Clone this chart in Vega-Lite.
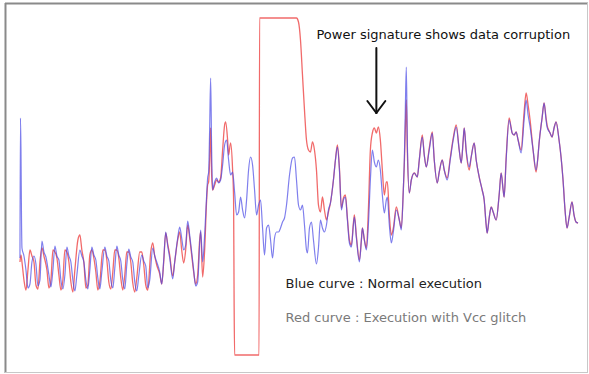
{
  "$schema": "https://vega.github.io/schema/vega-lite/v6.json",
  "width": 589,
  "height": 374,
  "autosize": {"type": "fit", "contains": "padding"},
  "padding": 0,
  "background": "white",
  "config": {"view": {"stroke": null}},
  "datasets": {
    "blue": [
      {"x":20,"y":258},{"x":20.5,"y":118},{"x":21,"y":150},{"x":21.5,"y":215},{"x":22,"y":248},{"x":24,"y":256},{"x":26,"y":270},{"x":28,"y":288},{"x":30,"y":284},{"x":32,"y":262},{"x":34,"y":256},{"x":36,"y":264},{"x":38,"y":286},{"x":40,"y":280},{"x":42,"y":241},{"x":44,"y":252},{"x":46,"y":257},{"x":49,"y":275},{"x":51,"y":287},{"x":53,"y":270},{"x":55,"y":246},{"x":57,"y":256},{"x":59,"y":260},{"x":61,"y":280},{"x":63,"y":289},{"x":65,"y":275},{"x":67,"y":247},{"x":69,"y":256},{"x":71,"y":262},{"x":73,"y":280},{"x":75,"y":291},{"x":77,"y":275},{"x":80,"y":250},{"x":82,"y":256},{"x":84,"y":262},{"x":86,"y":280},{"x":88,"y":289},{"x":90,"y":270},{"x":92,"y":247},{"x":94,"y":255},{"x":96,"y":260},{"x":98,"y":278},{"x":100,"y":289},{"x":102,"y":272},{"x":105,"y":247},{"x":107,"y":256},{"x":109,"y":261},{"x":111,"y":280},{"x":113,"y":288},{"x":115,"y":268},{"x":117,"y":246},{"x":119,"y":255},{"x":121,"y":261},{"x":123,"y":280},{"x":125,"y":289},{"x":127,"y":265},{"x":129,"y":249},{"x":131,"y":257},{"x":133,"y":262},{"x":135,"y":282},{"x":137,"y":291},{"x":139,"y":276},{"x":142,"y":255},{"x":144,"y":261},{"x":146,"y":266},{"x":148,"y":288},{"x":150,"y":280},{"x":153,"y":248},{"x":155,"y":256},{"x":157,"y":262},{"x":160,"y":272},{"x":162,"y":284},{"x":164,"y":260},{"x":166,"y":232},{"x":168,"y":246},{"x":170,"y":258},{"x":173,"y":279},{"x":175,"y":262},{"x":178,"y":238},{"x":180,"y":227},{"x":182,"y":238},{"x":184,"y":250},{"x":186,"y":245},{"x":188,"y":221},{"x":190,"y":235},{"x":192,"y":252},{"x":194,"y":270},{"x":196,"y":286},{"x":198,"y":282},{"x":201,"y":230},{"x":203,"y":262},{"x":205,"y":235},{"x":207,"y":195},{"x":208,"y":178},{"x":209,"y":172},{"x":210,"y":130},{"x":211,"y":78},{"x":212,"y":150},{"x":213,"y":190},{"x":215,"y":182},{"x":217,"y":178},{"x":219,"y":183},{"x":221,"y":180},{"x":223,"y":165},{"x":225,"y":145},{"x":227,"y":140},{"x":229,"y":160},{"x":231,"y":175},{"x":233,"y":172},{"x":235,"y":192},{"x":237,"y":215},{"x":239,"y":212},{"x":241,"y":197},{"x":243,"y":210},{"x":245,"y":218},{"x":247,"y":200},{"x":249,"y":170},{"x":251,"y":157},{"x":253,"y":165},{"x":255,"y":190},{"x":257,"y":215},{"x":259,"y":205},{"x":261,"y":200},{"x":263,"y":228},{"x":265,"y":255},{"x":267,"y":228},{"x":269,"y":225},{"x":271,"y":240},{"x":273,"y":258},{"x":275,"y":238},{"x":277,"y":232},{"x":279,"y":232},{"x":281,"y":228},{"x":283,"y":222},{"x":285,"y":218},{"x":287,"y":205},{"x":290,"y":175},{"x":293,"y":158},{"x":295,"y":157},{"x":297,"y":180},{"x":299,"y":205},{"x":301,"y":210},{"x":303,"y":205},{"x":305,"y":225},{"x":307,"y":250},{"x":308,"y":253},{"x":310,"y":228},{"x":312,"y":222},{"x":314,"y":240},{"x":317,"y":264},{"x":319,"y":248},{"x":321,"y":220},{"x":323,"y":228},{"x":325,"y":232},{"x":327,"y":225},{"x":329,"y":210},{"x":331,"y":203},{"x":334,"y":180},{"x":336,"y":160},{"x":338,"y":147},{"x":340,"y":170},{"x":342,"y":210},{"x":344,"y":200},{"x":346,"y":197},{"x":348,"y":220},{"x":350,"y":243},{"x":352,"y":247},{"x":354,"y":225},{"x":355,"y":217},{"x":357,"y":238},{"x":360,"y":262},{"x":362,"y":240},{"x":363,"y":228},{"x":365,"y":240},{"x":367,"y":250},{"x":369,"y":225},{"x":371,"y":180},{"x":373,"y":150},{"x":375,"y":162},{"x":377,"y":167},{"x":379,"y":160},{"x":381,"y":170},{"x":383,"y":195},{"x":385,"y":213},{"x":387,"y":200},{"x":388,"y":197},{"x":390,"y":225},{"x":392,"y":243},{"x":394,"y":232},{"x":397,"y":210},{"x":400,"y":220},{"x":402,"y":230},{"x":404,"y":190},{"x":405,"y":160},{"x":406,"y":110},{"x":407,"y":67},{"x":408,"y":140},{"x":410,"y":193},{"x":412,"y":180},{"x":415,"y":173},{"x":418,"y":177},{"x":420,"y":160},{"x":423,"y":137},{"x":425,"y":155},{"x":427,"y":167},{"x":430,"y":150},{"x":433,"y":133},{"x":435,"y":160},{"x":438,"y":183},{"x":440,"y":172},{"x":443,"y":160},{"x":445,"y":170},{"x":448,"y":180},{"x":451,"y":160},{"x":454,"y":140},{"x":457,"y":127},{"x":460,"y":150},{"x":462,"y":163},{"x":464,"y":140},{"x":465,"y":128},{"x":467,"y":150},{"x":470,"y":167},{"x":472,"y":157},{"x":475,"y":143},{"x":477,"y":160},{"x":480,"y":177},{"x":483,"y":190},{"x":485,"y":200},{"x":487,"y":225},{"x":488,"y":233},{"x":490,"y":218},{"x":492,"y":207},{"x":494,"y":212},{"x":497,"y":220},{"x":500,"y":195},{"x":502,"y":173},{"x":504,"y":190},{"x":505,"y":197},{"x":507,"y":160},{"x":510,"y":120},{"x":512,"y":128},{"x":513,"y":133},{"x":515,"y":135},{"x":517,"y":132},{"x":519,"y":140},{"x":522,"y":153},{"x":525,"y":120},{"x":527,"y":100},{"x":529,"y":115},{"x":531,"y":127},{"x":534,"y":150},{"x":537,"y":170},{"x":539,"y":155},{"x":540,"y":143},{"x":543,"y":118},{"x":545,"y":103},{"x":547,"y":120},{"x":548,"y":127},{"x":551,"y":133},{"x":553,"y":137},{"x":555,"y":128},{"x":557,"y":122},{"x":560,"y":140},{"x":562,"y":157},{"x":564,"y":180},{"x":566,"y":210},{"x":568,"y":228},{"x":570,"y":218},{"x":573,"y":202},{"x":575,"y":215},{"x":577,"y":222},{"x":579,"y":223}
    ],
    "red": [
      {"x":20,"y":262},{"x":21,"y":255},{"x":22,"y":262},{"x":24,"y":280},{"x":26,"y":290},{"x":28,"y":270},{"x":30,"y":250},{"x":32,"y":256},{"x":34,"y":262},{"x":36,"y":285},{"x":38,"y":289},{"x":40,"y":262},{"x":42,"y":248},{"x":44,"y":256},{"x":47,"y":270},{"x":49,"y":288},{"x":51,"y":280},{"x":53,"y":250},{"x":55,"y":252},{"x":57,"y":258},{"x":59,"y":275},{"x":61,"y":290},{"x":63,"y":280},{"x":65,"y":250},{"x":67,"y":252},{"x":69,"y":262},{"x":71,"y":282},{"x":73,"y":292},{"x":75,"y":270},{"x":78,"y":240},{"x":80,"y":235},{"x":82,"y":250},{"x":84,"y":262},{"x":86,"y":288},{"x":88,"y":285},{"x":90,"y":255},{"x":92,"y":250},{"x":94,"y":258},{"x":96,"y":272},{"x":98,"y":290},{"x":100,"y":282},{"x":103,"y":250},{"x":105,"y":250},{"x":107,"y":260},{"x":109,"y":282},{"x":111,"y":289},{"x":113,"y":272},{"x":115,"y":250},{"x":117,"y":250},{"x":119,"y":258},{"x":121,"y":278},{"x":123,"y":290},{"x":125,"y":275},{"x":127,"y":252},{"x":129,"y":252},{"x":131,"y":262},{"x":133,"y":283},{"x":135,"y":292},{"x":137,"y":278},{"x":140,"y":252},{"x":142,"y":252},{"x":144,"y":265},{"x":146,"y":285},{"x":148,"y":290},{"x":151,"y":252},{"x":153,"y":243},{"x":155,"y":256},{"x":157,"y":265},{"x":160,"y":274},{"x":162,"y":284},{"x":164,"y":262},{"x":166,"y":233},{"x":168,"y":244},{"x":170,"y":255},{"x":173,"y":276},{"x":175,"y":262},{"x":178,"y":240},{"x":180,"y":232},{"x":182,"y":250},{"x":184,"y":263},{"x":186,"y":250},{"x":188,"y":225},{"x":190,"y":238},{"x":192,"y":255},{"x":194,"y":272},{"x":196,"y":284},{"x":198,"y":275},{"x":200,"y":240},{"x":201,"y":232},{"x":203,"y":277},{"x":205,"y":250},{"x":207,"y":200},{"x":208,"y":185},{"x":209,"y":182},{"x":210,"y":160},{"x":211,"y":128},{"x":212,"y":175},{"x":213,"y":190},{"x":215,"y":185},{"x":217,"y":180},{"x":219,"y":182},{"x":221,"y":178},{"x":223,"y":150},{"x":225,"y":125},{"x":226,"y":122},{"x":228,"y":140},{"x":229,"y":155},{"x":231,"y":143},{"x":233,"y":170},{"x":234,"y":200},{"x":234.5,"y":300},{"x":235,"y":355},{"x":259.5,"y":355},{"x":260,"y":18},{"x":297,"y":18},{"x":299,"y":22},{"x":301,"y":40},{"x":303,"y":75},{"x":305,"y":110},{"x":307,"y":140},{"x":309,"y":150},{"x":311,"y":152},{"x":313,"y":142},{"x":315,"y":150},{"x":317,"y":170},{"x":319,"y":205},{"x":321,"y":212},{"x":323,"y":197},{"x":325,"y":210},{"x":327,"y":220},{"x":329,"y":212},{"x":331,"y":203},{"x":334,"y":180},{"x":336,"y":160},{"x":338,"y":145},{"x":340,"y":168},{"x":342,"y":208},{"x":344,"y":198},{"x":346,"y":195},{"x":348,"y":218},{"x":350,"y":240},{"x":352,"y":245},{"x":354,"y":223},{"x":355,"y":215},{"x":357,"y":236},{"x":360,"y":260},{"x":362,"y":240},{"x":363,"y":228},{"x":365,"y":240},{"x":367,"y":248},{"x":369,"y":210},{"x":371,"y":150},{"x":373,"y":133},{"x":375,"y":128},{"x":377,"y":133},{"x":379,"y":127},{"x":381,"y":140},{"x":383,"y":170},{"x":385,"y":195},{"x":387,"y":182},{"x":388,"y":182},{"x":390,"y":215},{"x":392,"y":235},{"x":394,"y":228},{"x":397,"y":207},{"x":400,"y":220},{"x":402,"y":228},{"x":404,"y":190},{"x":405,"y":165},{"x":406,"y":130},{"x":407,"y":100},{"x":408,"y":150},{"x":410,"y":193},{"x":412,"y":180},{"x":415,"y":173},{"x":418,"y":177},{"x":420,"y":160},{"x":423,"y":135},{"x":425,"y":155},{"x":427,"y":167},{"x":430,"y":148},{"x":433,"y":132},{"x":435,"y":160},{"x":438,"y":183},{"x":440,"y":172},{"x":443,"y":160},{"x":445,"y":170},{"x":448,"y":178},{"x":451,"y":158},{"x":454,"y":138},{"x":457,"y":125},{"x":460,"y":150},{"x":462,"y":163},{"x":464,"y":140},{"x":465,"y":128},{"x":467,"y":152},{"x":470,"y":170},{"x":472,"y":157},{"x":475,"y":143},{"x":477,"y":160},{"x":480,"y":177},{"x":483,"y":190},{"x":485,"y":200},{"x":487,"y":225},{"x":488,"y":233},{"x":490,"y":218},{"x":492,"y":207},{"x":494,"y":212},{"x":497,"y":220},{"x":500,"y":195},{"x":502,"y":173},{"x":504,"y":190},{"x":505,"y":197},{"x":507,"y":158},{"x":510,"y":118},{"x":512,"y":128},{"x":513,"y":133},{"x":515,"y":135},{"x":517,"y":132},{"x":519,"y":140},{"x":522,"y":150},{"x":525,"y":112},{"x":527,"y":93},{"x":529,"y":105},{"x":531,"y":120},{"x":534,"y":150},{"x":537,"y":172},{"x":539,"y":155},{"x":540,"y":143},{"x":543,"y":118},{"x":545,"y":103},{"x":547,"y":118},{"x":548,"y":125},{"x":551,"y":133},{"x":553,"y":137},{"x":555,"y":128},{"x":557,"y":122},{"x":560,"y":140},{"x":562,"y":157},{"x":564,"y":180},{"x":566,"y":210},{"x":568,"y":228},{"x":570,"y":218},{"x":573,"y":202},{"x":575,"y":215},{"x":577,"y":222},{"x":579,"y":223}
    ]
  },
  "encoding": {
    "x": {"field": "x", "type": "quantitative", "scale": {"domain": [0, 589], "nice": false, "zero": false}, "axis": null},
    "y": {"field": "y", "type": "quantitative", "scale": {"domain": [0, 374], "reverse": true, "nice": false, "zero": false}, "axis": null}
  },
  "layer": [
    {
      "data": {"values": [{"x": 5, "x2": 589, "y": 3.5, "y2": 3.5}, {"x": 5.5, "x2": 5.5, "y": 3, "y2": 373}]},
      "mark": {"type": "rule", "color": "#8a8a8a", "strokeWidth": 2},
      "encoding": {"x2": {"field": "x2"}, "y2": {"field": "y2"}}
    },
    {
      "data": {"values": [{"x": 5, "x2": 589, "y": 372.5, "y2": 372.5}, {"x": 588.5, "x2": 588.5, "y": 3, "y2": 373}]},
      "mark": {"type": "rule", "color": "#c8c8c8", "strokeWidth": 1},
      "encoding": {"x2": {"field": "x2"}, "y2": {"field": "y2"}}
    },
    {
      "data": {"name": "red"},
      "mark": {"type": "line", "color": "#ef5a5a", "strokeWidth": 1.3, "opacity": 0.9, "interpolate": "monotone"}
    },
    {
      "data": {"name": "blue"},
      "mark": {"type": "line", "color": "#4848e6", "strokeWidth": 1.2, "opacity": 0.7, "interpolate": "monotone"}
    },
    {
      "data": {"values": [{"x": 377, "x2": 377, "y": 48, "y2": 113}, {"x": 368, "x2": 377, "y": 101, "y2": 113}, {"x": 386, "x2": 377, "y": 101, "y2": 113}]},
      "mark": {"type": "rule", "color": "#111111", "strokeWidth": 2, "strokeCap": "round"},
      "encoding": {"x2": {"field": "x2"}, "y2": {"field": "y2"}}
    },
    {
      "data": {"values": [{"x": 317, "y": 35, "label": "Power signature shows data corruption"}]},
      "mark": {"type": "text", "align": "left", "baseline": "middle", "font": "DejaVu Sans", "fontSize": 13, "color": "#111111"},
      "encoding": {"text": {"field": "label"}}
    },
    {
      "data": {"values": [{"x": 286, "y": 284, "label": "Blue curve : Normal execution"}]},
      "mark": {"type": "text", "align": "left", "baseline": "middle", "font": "DejaVu Sans", "fontSize": 13, "color": "#222222"},
      "encoding": {"text": {"field": "label"}}
    },
    {
      "data": {"values": [{"x": 286, "y": 318, "label": "Red curve : Execution with Vcc glitch"}]},
      "mark": {"type": "text", "align": "left", "baseline": "middle", "font": "DejaVu Sans", "fontSize": 13, "color": "#7a7a7a"},
      "encoding": {"text": {"field": "label"}}
    }
  ]
}
